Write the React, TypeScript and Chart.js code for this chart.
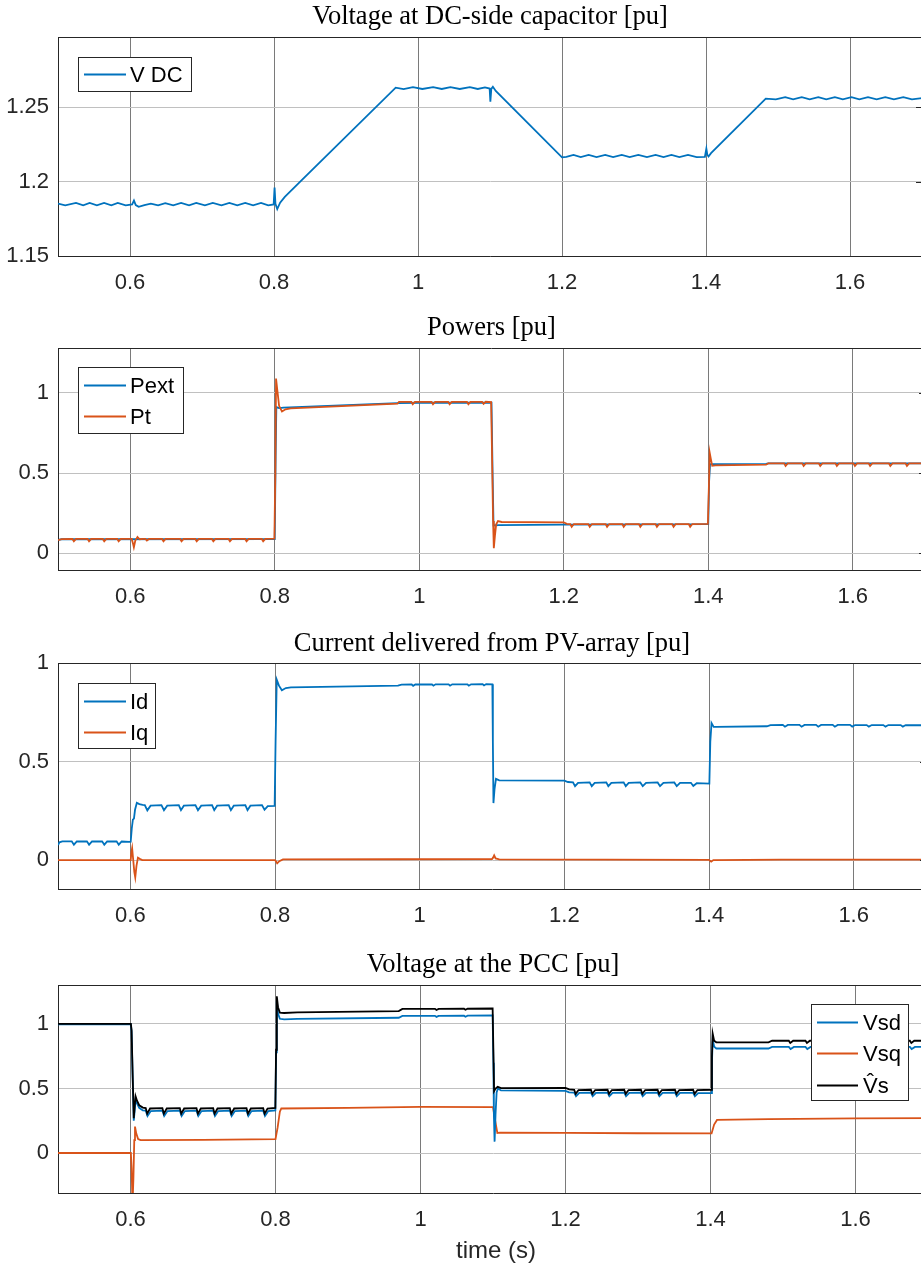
import React, { useEffect, useRef } from 'react';
import { Chart, registerables } from 'chart.js';

Chart.register(...registerables);

// ---------------- data ----------------
const X_TICKS = [0.6, 0.8, 1.0, 1.2, 1.4, 1.6];
const Y_TICKS_DC = [1.15, 1.2, 1.25];
const Y_TICKS_P = [0, 0.5, 1];
const Y_TICKS_I = [0, 0.5, 1];
const Y_TICKS_V = [0, 0.5, 1];

const TITLES = [
  'Voltage at DC-side capacitor [pu]',
  'Powers [pu]',
  'Current delivered from PV-array [pu]',
  'Voltage at the PCC [pu]',
];
const X_LABEL = 'time (s)';

const vdc: number[][] = [
  [0.500, 1.1852], [0.510, 1.1840], [0.525, 1.1856], [0.535, 1.1840], [0.544, 1.1856], [0.554, 1.1840],
  [0.564, 1.1856], [0.574, 1.1840], [0.583, 1.1856], [0.594, 1.1840], [0.603, 1.1846], [0.6055, 1.1872],
  [0.608, 1.1842], [0.612, 1.1830], [0.620, 1.1842], [0.629, 1.1852], [0.639, 1.1840], [0.649, 1.1855],
  [0.660, 1.1840], [0.671, 1.1856], [0.682, 1.1840], [0.692, 1.1856], [0.704, 1.1840], [0.715, 1.1856],
  [0.727, 1.1840], [0.738, 1.1856], [0.749, 1.1840], [0.760, 1.1856], [0.771, 1.1840], [0.782, 1.1856],
  [0.792, 1.1840], [0.7995, 1.1846], [0.8008, 1.1960], [0.8020, 1.1850], [0.8045, 1.1815], [0.8085, 1.1858],
  [0.815, 1.1897], [0.835, 1.1992], [0.969, 1.2630], [0.980, 1.2620], [0.993, 1.2634], [1.006, 1.2621],
  [1.021, 1.2634], [1.033, 1.2621], [1.045, 1.2634], [1.058, 1.2621], [1.072, 1.2634], [1.083, 1.2621],
  [1.093, 1.2632], [1.0995, 1.2624], [1.1005, 1.2535], [1.1018, 1.2622], [1.1040, 1.2636], [1.1080, 1.2608],
  [1.200, 1.2162], [1.206, 1.2166], [1.216, 1.2178], [1.226, 1.2164], [1.237, 1.2178], [1.248, 1.2164],
  [1.260, 1.2178], [1.271, 1.2164], [1.283, 1.2178], [1.294, 1.2164], [1.306, 1.2178], [1.318, 1.2164],
  [1.330, 1.2178], [1.341, 1.2164], [1.352, 1.2178], [1.363, 1.2164], [1.375, 1.2178], [1.387, 1.2164],
  [1.3985, 1.2166], [1.4005, 1.2220], [1.4018, 1.2180], [1.4035, 1.2168], [1.407, 1.2190], [1.483, 1.2556],
  [1.497, 1.2552], [1.510, 1.2566], [1.521, 1.2552], [1.533, 1.2566], [1.544, 1.2552], [1.556, 1.2566],
  [1.567, 1.2552], [1.579, 1.2566], [1.590, 1.2552], [1.602, 1.2566], [1.613, 1.2552], [1.625, 1.2566],
  [1.637, 1.2552], [1.649, 1.2566], [1.661, 1.2552], [1.674, 1.2566], [1.686, 1.2552], [1.700, 1.2560],
];

const pext: number[][] = [
  [0.500, 0.082], [0.505, 0.086], [0.800, 0.087], [0.8012, 0.600], [0.8022, 0.912], [0.806, 0.905],
  [0.812, 0.908], [0.970, 0.936], [1.000, 0.939], [1.100, 0.940], [1.1015, 0.500], [1.1028, 0.172],
  [1.110, 0.174], [1.200, 0.177], [1.400, 0.180], [1.4012, 0.450], [1.4025, 0.556], [1.410, 0.556],
  [1.480, 0.557], [1.483, 0.560], [1.700, 0.560],
];

const pt: number[][] = [
  [0.500, 0.080], [0.505, 0.087],
  [0.520, 0.088], [0.522, 0.074], [0.525, 0.088],
  [0.541, 0.088], [0.543, 0.074], [0.546, 0.088],
  [0.562, 0.088], [0.564, 0.074], [0.567, 0.088],
  [0.582, 0.088], [0.584, 0.074], [0.587, 0.088],
  [0.602, 0.088], [0.6035, 0.065], [0.605, 0.036], [0.607, 0.078], [0.610, 0.100], [0.613, 0.086], [0.618, 0.088],
  [0.621, 0.088], [0.623, 0.078], [0.626, 0.088],
  [0.644, 0.088], [0.646, 0.074], [0.649, 0.088],
  [0.669, 0.088], [0.671, 0.074], [0.674, 0.088],
  [0.690, 0.088], [0.692, 0.074], [0.695, 0.088],
  [0.713, 0.088], [0.715, 0.074], [0.718, 0.088],
  [0.736, 0.088], [0.738, 0.074], [0.741, 0.088],
  [0.759, 0.088], [0.761, 0.074], [0.764, 0.088],
  [0.782, 0.088], [0.784, 0.074], [0.787, 0.088],
  [0.7995, 0.090], [0.8008, 0.500], [0.8018, 1.090], [0.8035, 1.020], [0.806, 0.920], [0.810, 0.884],
  [0.815, 0.898], [0.822, 0.904], [0.970, 0.934], [0.972, 0.945],
  [0.989, 0.945], [0.991, 0.930], [0.994, 0.945],
  [1.017, 0.945], [1.019, 0.930], [1.022, 0.945],
  [1.040, 0.945], [1.042, 0.930], [1.045, 0.945],
  [1.066, 0.945], [1.068, 0.930], [1.071, 0.945],
  [1.087, 0.945], [1.089, 0.932], [1.092, 0.945],
  [1.0995, 0.943], [1.1008, 0.600], [1.1022, 0.200], [1.1032, 0.030], [1.1048, 0.110], [1.1065, 0.180],
  [1.109, 0.200], [1.114, 0.194], [1.200, 0.192], [1.204, 0.182],
  [1.209, 0.181], [1.211, 0.164], [1.214, 0.181],
  [1.234, 0.181], [1.236, 0.164], [1.239, 0.181],
  [1.258, 0.181], [1.260, 0.164], [1.263, 0.181],
  [1.281, 0.181], [1.283, 0.164], [1.286, 0.181],
  [1.304, 0.181], [1.306, 0.164], [1.309, 0.181],
  [1.327, 0.181], [1.329, 0.164], [1.332, 0.181],
  [1.350, 0.181], [1.352, 0.164], [1.355, 0.181],
  [1.373, 0.181], [1.375, 0.164], [1.378, 0.181],
  [1.3995, 0.182], [1.4008, 0.400], [1.4020, 0.627], [1.4035, 0.590], [1.4055, 0.545], [1.410, 0.548],
  [1.480, 0.552], [1.483, 0.560],
  [1.505, 0.560], [1.507, 0.544], [1.510, 0.560],
  [1.530, 0.560], [1.532, 0.544], [1.535, 0.560],
  [1.553, 0.560], [1.555, 0.544], [1.558, 0.560],
  [1.576, 0.560], [1.578, 0.544], [1.581, 0.560],
  [1.601, 0.560], [1.603, 0.544], [1.606, 0.560],
  [1.622, 0.560], [1.624, 0.544], [1.627, 0.560],
  [1.650, 0.560], [1.652, 0.544], [1.655, 0.560],
  [1.673, 0.560], [1.675, 0.544], [1.678, 0.560],
  [1.700, 0.560],
];

const id: number[][] = [
  [0.500, 0.076], [0.502, 0.090], [0.506, 0.095],
  [0.519, 0.095], [0.522, 0.078], [0.526, 0.094],
  [0.540, 0.095], [0.543, 0.078], [0.547, 0.094],
  [0.561, 0.095], [0.564, 0.078], [0.568, 0.094],
  [0.581, 0.095], [0.584, 0.078], [0.588, 0.094],
  [0.599, 0.092], [0.6005, 0.093], [0.6020, 0.160], [0.6035, 0.205], [0.6050, 0.210], [0.6065, 0.255],
  [0.6090, 0.290], [0.6125, 0.284], [0.617, 0.280],
  [0.620, 0.279], [0.6235, 0.252], [0.628, 0.276],
  [0.643, 0.279], [0.6465, 0.253], [0.651, 0.276],
  [0.667, 0.279], [0.6700, 0.253], [0.674, 0.276],
  [0.690, 0.279], [0.6935, 0.253], [0.698, 0.276],
  [0.713, 0.279], [0.7160, 0.253], [0.720, 0.276],
  [0.736, 0.279], [0.7390, 0.253], [0.743, 0.276],
  [0.759, 0.279], [0.7620, 0.253], [0.766, 0.276],
  [0.782, 0.279], [0.7855, 0.255], [0.790, 0.274],
  [0.7995, 0.275], [0.8008, 0.600], [0.8024, 0.915], [0.8055, 0.885], [0.8095, 0.862], [0.815, 0.873],
  [0.822, 0.876], [0.970, 0.885], [0.975, 0.890],
  [0.989, 0.891], [0.991, 0.884], [0.994, 0.891],
  [1.017, 0.892], [1.019, 0.885], [1.022, 0.892],
  [1.040, 0.892], [1.042, 0.885], [1.045, 0.892],
  [1.066, 0.892], [1.068, 0.885], [1.071, 0.892],
  [1.087, 0.893], [1.089, 0.886], [1.092, 0.893],
  [1.1005, 0.892], [1.1012, 0.600], [1.1020, 0.289], [1.1035, 0.360], [1.1055, 0.412], [1.110, 0.404],
  [1.200, 0.403], [1.205, 0.396],
  [1.212, 0.394], [1.2148, 0.375], [1.219, 0.392],
  [1.235, 0.394], [1.2379, 0.375], [1.242, 0.392],
  [1.258, 0.394], [1.2608, 0.375], [1.265, 0.392],
  [1.282, 0.394], [1.2849, 0.375], [1.289, 0.392],
  [1.305, 0.394], [1.3084, 0.375], [1.313, 0.392],
  [1.329, 0.394], [1.3323, 0.375], [1.337, 0.392],
  [1.352, 0.394], [1.3554, 0.375], [1.360, 0.392],
  [1.375, 0.392], [1.3783, 0.376], [1.383, 0.390],
  [1.4005, 0.388], [1.4018, 0.600], [1.4035, 0.695], [1.4065, 0.676], [1.410, 0.676], [1.480, 0.679],
  [1.485, 0.685],
  [1.502, 0.686], [1.505, 0.677], [1.509, 0.686],
  [1.525, 0.686], [1.528, 0.677], [1.532, 0.686],
  [1.548, 0.686], [1.551, 0.677], [1.555, 0.686],
  [1.571, 0.686], [1.574, 0.677], [1.578, 0.686],
  [1.595, 0.686], [1.598, 0.677], [1.602, 0.685],
  [1.618, 0.685], [1.621, 0.677], [1.625, 0.685],
  [1.641, 0.685], [1.644, 0.677], [1.648, 0.685],
  [1.665, 0.685], [1.668, 0.677], [1.672, 0.685],
  [1.700, 0.684],
];

const iq: number[][] = [
  [0.500, 0.000], [0.6005, 0.000], [0.6015, 0.040], [0.6025, 0.060], [0.6040, 0.000], [0.6055, -0.060],
  [0.6068, -0.088], [0.6085, -0.030], [0.6105, 0.012], [0.613, 0.006], [0.6165, 0.000], [0.800, 0.000],
  [0.8015, -0.008], [0.803, -0.017], [0.806, -0.006], [0.811, 0.003], [0.970, 0.004], [1.100, 0.005],
  [1.1015, 0.012], [1.1030, 0.024], [1.1050, 0.008], [1.110, 0.003], [1.400, 0.001], [1.4015, -0.004],
  [1.403, -0.008], [1.406, 0.000], [1.500, 0.002], [1.700, 0.002],
];

const vs: number[][] = [
  [0.500, 1.000], [0.6005, 1.000], [0.6015, 0.950], [0.6030, 0.600], [0.6045, 0.270], [0.6058, 0.360],
  [0.6070, 0.440], [0.6090, 0.405], [0.6120, 0.370], [0.617, 0.352],
  [0.621, 0.348], [0.623, 0.305], [0.627, 0.345],
  [0.644, 0.348], [0.646, 0.305], [0.650, 0.345],
  [0.668, 0.348], [0.670, 0.305], [0.674, 0.345],
  [0.691, 0.348], [0.693, 0.305], [0.697, 0.345],
  [0.714, 0.348], [0.716, 0.305], [0.720, 0.345],
  [0.737, 0.348], [0.739, 0.305], [0.743, 0.345],
  [0.760, 0.348], [0.762, 0.305], [0.766, 0.345],
  [0.783, 0.348], [0.785, 0.305], [0.789, 0.345],
  [0.7998, 0.350], [0.8008, 0.800], [0.8018, 1.215], [0.8035, 1.130], [0.806, 1.088], [0.812, 1.085],
  [0.830, 1.090], [0.970, 1.100], [0.975, 1.117],
  [1.020, 1.117], [1.022, 1.108], [1.025, 1.117], [1.060, 1.118], [1.062, 1.110], [1.065, 1.118],
  [1.0995, 1.120], [1.1005, 0.800], [1.1015, 0.480], [1.1035, 0.500], [1.1065, 0.513], [1.111, 0.503],
  [1.200, 0.505], [1.205, 0.493],
  [1.212, 0.490], [1.214, 0.458], [1.218, 0.488],
  [1.235, 0.490], [1.237, 0.458], [1.241, 0.488],
  [1.258, 0.490], [1.260, 0.458], [1.264, 0.488],
  [1.281, 0.490], [1.283, 0.458], [1.287, 0.488],
  [1.304, 0.490], [1.306, 0.458], [1.310, 0.488],
  [1.327, 0.490], [1.329, 0.458], [1.333, 0.488],
  [1.351, 0.490], [1.353, 0.458], [1.357, 0.488],
  [1.376, 0.490], [1.378, 0.458], [1.382, 0.488],
  [1.4010, 0.490], [1.4020, 0.750], [1.4030, 0.925], [1.4050, 0.870], [1.408, 0.858], [1.480, 0.858],
  [1.485, 0.870],
  [1.508, 0.870], [1.510, 0.853], [1.514, 0.870],
  [1.531, 0.870], [1.533, 0.853], [1.537, 0.870],
  [1.555, 0.870], [1.557, 0.853], [1.561, 0.870],
  [1.579, 0.870], [1.581, 0.853], [1.585, 0.870],
  [1.603, 0.870], [1.605, 0.853], [1.609, 0.870],
  [1.627, 0.870], [1.629, 0.853], [1.633, 0.870],
  [1.651, 0.870], [1.653, 0.853], [1.657, 0.870],
  [1.675, 0.870], [1.677, 0.853], [1.681, 0.870],
  [1.700, 0.870],
];

const vsd: number[][] = [
  [0.500, 0.998], [0.6005, 0.998], [0.6015, 0.940], [0.6030, 0.580], [0.6045, 0.250], [0.6058, 0.330],
  [0.6070, 0.415], [0.6090, 0.385], [0.6120, 0.350], [0.617, 0.330],
  [0.621, 0.328], [0.6235, 0.287], [0.628, 0.325],
  [0.644, 0.328], [0.6465, 0.287], [0.651, 0.325],
  [0.668, 0.328], [0.6705, 0.287], [0.675, 0.325],
  [0.691, 0.328], [0.6935, 0.287], [0.698, 0.325],
  [0.714, 0.328], [0.7165, 0.287], [0.721, 0.325],
  [0.737, 0.328], [0.7395, 0.287], [0.744, 0.325],
  [0.760, 0.328], [0.7625, 0.287], [0.767, 0.325],
  [0.783, 0.328], [0.7855, 0.287], [0.790, 0.325],
  [0.7998, 0.330], [0.8008, 0.780], [0.8018, 1.180], [0.8035, 1.080], [0.806, 1.040], [0.812, 1.035],
  [0.830, 1.040], [0.970, 1.048], [0.975, 1.062],
  [1.020, 1.063], [1.022, 1.055], [1.025, 1.063], [1.060, 1.064], [1.062, 1.056], [1.065, 1.064],
  [1.0995, 1.066], [1.1005, 0.700], [1.1012, 0.300], [1.1022, 0.088], [1.1035, 0.300], [1.1050, 0.470],
  [1.1068, 0.500], [1.111, 0.485], [1.200, 0.482], [1.205, 0.470],
  [1.212, 0.468], [1.2145, 0.440], [1.219, 0.466],
  [1.235, 0.468], [1.2375, 0.440], [1.242, 0.466],
  [1.258, 0.468], [1.2605, 0.440], [1.265, 0.466],
  [1.281, 0.468], [1.2835, 0.440], [1.288, 0.466],
  [1.304, 0.468], [1.3065, 0.440], [1.311, 0.466],
  [1.327, 0.468], [1.3295, 0.440], [1.334, 0.466],
  [1.351, 0.468], [1.3535, 0.440], [1.358, 0.466],
  [1.376, 0.466], [1.3785, 0.440], [1.383, 0.464],
  [1.4010, 0.465], [1.4020, 0.700], [1.4030, 0.880], [1.4050, 0.825], [1.408, 0.810], [1.480, 0.810],
  [1.485, 0.822],
  [1.508, 0.822], [1.5105, 0.806], [1.515, 0.822],
  [1.531, 0.822], [1.5335, 0.806], [1.538, 0.822],
  [1.555, 0.822], [1.5575, 0.806], [1.562, 0.822],
  [1.579, 0.822], [1.5815, 0.806], [1.586, 0.822],
  [1.603, 0.822], [1.6055, 0.806], [1.610, 0.822],
  [1.627, 0.822], [1.6295, 0.806], [1.634, 0.822],
  [1.651, 0.822], [1.6535, 0.806], [1.658, 0.822],
  [1.675, 0.822], [1.6775, 0.806], [1.682, 0.822],
  [1.700, 0.822],
];

const vsq: number[][] = [
  [0.500, 0.000], [0.6005, 0.000], [0.6015, -0.120], [0.6028, -0.400], [0.6040, -0.200], [0.6052, 0.100],
  [0.6062, 0.205], [0.6080, 0.150], [0.6105, 0.108], [0.614, 0.100], [0.700, 0.102], [0.8000, 0.108],
  [0.8030, 0.200], [0.8060, 0.320], [0.8080, 0.345], [0.900, 0.350], [1.000, 0.358], [1.1000, 0.355],
  [1.1030, 0.250], [1.1060, 0.155], [1.110, 0.158], [1.200, 0.156], [1.300, 0.153], [1.4015, 0.152],
  [1.405, 0.220], [1.409, 0.256], [1.480, 0.262], [1.600, 0.268], [1.700, 0.270],
];

// ---------------- styling ----------------
const BLUE = '#0072BD';
const ORANGE = '#D95319';
const BLACK = '#000000';
const BOX = '#262626';
const TICK = '#262626';
const X_GRID = '#7a7a7a';
const Y_GRID = '#c0c0c0';
const LINE_W = 1.8;
const SANS = '"Liberation Sans", Arial, sans-serif';
const SERIF = '"Liberation Serif", "Times New Roman", serif';

type Series = { label: string; data: number[][]; color: string; order: number };
type Spec = {
  top: number; width: number; height: number; areaTop: number; areaBottom: number;
  yMin: number; yMax: number; yTicks: number[]; title: string; titleBaseline: number;
  series: Series[];
  legend: { x0: number; y0: number; x1: number; y1: number; lx0: number; lx1: number; tx: number; rows: number[] };
  xLabelBaseline?: number;
};

const SPECS: Spec[] = [
  {
    top: 0, width: 922, height: 300, areaTop: 37, areaBottom: 256,
    yMin: 1.15, yMax: 1.297, yTicks: Y_TICKS_DC, title: TITLES[0], titleBaseline: 24,
    series: [{ label: 'V DC', data: vdc, color: BLUE, order: 0 }],
    legend: { x0: 78, y0: 57, x1: 191, y1: 91, lx0: 84, lx1: 126, tx: 130, rows: [74] },
  },
  {
    top: 310, width: 925, height: 304, areaTop: 38, areaBottom: 260,
    yMin: -0.106, yMax: 1.281, yTicks: Y_TICKS_P, title: TITLES[1], titleBaseline: 25,
    series: [
      { label: 'Pext', data: pext, color: BLUE, order: 1 },
      { label: 'Pt', data: pt, color: ORANGE, order: 0 },
    ],
    legend: { x0: 78, y0: 57, x1: 183, y1: 123, lx0: 84, lx1: 126, tx: 130, rows: [75, 106] },
  },
  {
    top: 625, width: 926, height: 308, areaTop: 38, areaBottom: 264,
    yMin: -0.147, yMax: 1.0, yTicks: Y_TICKS_I, title: TITLES[2], titleBaseline: 25.7,
    series: [
      { label: 'Id', data: id, color: BLUE, order: 0 },
      { label: 'Iq', data: iq, color: ORANGE, order: 1 },
    ],
    legend: { x0: 78, y0: 58, x1: 155, y1: 123, lx0: 84, lx1: 126, tx: 130, rows: [76, 107] },
  },
  {
    top: 945, width: 928, height: 319, areaTop: 40, areaBottom: 248,
    yMin: -0.31, yMax: 1.302, yTicks: Y_TICKS_V, title: TITLES[3], titleBaseline: 27,
    series: [
      { label: 'Vsd', data: vsd, color: BLUE, order: 1 },
      { label: 'Vsq', data: vsq, color: ORANGE, order: 2 },
      { label: 'V\u0302s', data: vs, color: BLACK, order: 0 },
    ],
    legend: { x0: 811, y0: 59, x1: 908, y1: 155, lx0: 817, lx1: 858, tx: 863, rows: [77, 108, 140] },
    xLabelBaseline: 313,
  },
];

function makeDecor(spec: Spec) {
  return {
    id: 'decor',
    afterDraw(chart: any) {
      const ctx: CanvasRenderingContext2D = chart.ctx;
      const a = chart.chartArea;
      const yScale = chart.scales.y;
      ctx.save();
      ctx.strokeStyle = BOX;
      ctx.lineWidth = 1;
      ctx.beginPath();
      ctx.moveTo(Math.round(a.left) + 0.5, Math.round(a.top) + 0.5);
      ctx.lineTo(Math.round(a.right) - 0.5, Math.round(a.top) + 0.5);
      ctx.lineTo(Math.round(a.right) - 0.5, Math.round(a.bottom) + 0.5);
      ctx.stroke();
      ctx.beginPath();
      for (const v of spec.yTicks) {
        const py = Math.round(yScale.getPixelForValue(v)) + 0.5;
        ctx.moveTo(a.right - 6, py);
        ctx.lineTo(a.right, py);
      }
      ctx.stroke();
      ctx.fillStyle = '#000';
      ctx.font = `26.5px ${SERIF}`;
      ctx.textAlign = 'center';
      ctx.textBaseline = 'alphabetic';
      ctx.fillText(spec.title, (a.left + a.right) / 2, spec.titleBaseline);
      if (spec.xLabelBaseline) {
        ctx.fillStyle = TICK;
        ctx.font = `24px ${SANS}`;
        ctx.fillText(X_LABEL, (a.left + a.right) / 2 + 3, spec.xLabelBaseline);
      }
      const L = spec.legend;
      ctx.fillStyle = '#ffffff';
      ctx.fillRect(L.x0, L.y0, L.x1 - L.x0, L.y1 - L.y0);
      ctx.strokeStyle = BOX;
      ctx.lineWidth = 1;
      ctx.strokeRect(L.x0 + 0.5, L.y0 + 0.5, L.x1 - L.x0, L.y1 - L.y0);
      ctx.font = `22px ${SANS}`;
      ctx.textAlign = 'left';
      spec.series.forEach((s, i) => {
        const y = L.rows[i];
        ctx.strokeStyle = s.color;
        ctx.lineWidth = LINE_W;
        ctx.beginPath();
        ctx.moveTo(L.lx0, y + 0.5);
        ctx.lineTo(L.lx1, y + 0.5);
        ctx.stroke();
        ctx.fillStyle = '#000';
        ctx.fillText(s.label, L.tx, y + 8);
      });
      ctx.restore();
    },
  };
}

function Panel({ spec }: { spec: Spec }) {
  const ref = useRef<HTMLCanvasElement | null>(null);
  useEffect(() => {
    const canvas = ref.current;
    if (!canvas) return;
    const tickFont = { family: SANS, size: 22 };
    const chart = new Chart(canvas, {
      type: 'line',
      data: {
        datasets: spec.series.map((s) => ({
          label: s.label,
          data: s.data.map(([x, y]) => ({ x, y })),
          borderColor: s.color,
          backgroundColor: s.color,
          borderWidth: LINE_W,
          pointRadius: 0,
          pointHoverRadius: 0,
          fill: false,
          tension: 0,
          order: s.order,
        })),
      },
      options: {
        responsive: false,
        animation: false,
        devicePixelRatio: 1,
        events: [],
        layout: { padding: { top: spec.areaTop, left: 0, right: 0, bottom: 0 } },
        plugins: {
          legend: { display: false },
          tooltip: { enabled: false },
          title: { display: false },
        },
        scales: {
          x: {
            type: 'linear',
            min: 0.5,
            max: 1.7,
            afterBuildTicks: (s: any) => { s.ticks = X_TICKS.map((v) => ({ value: v })); },
            afterFit: (s: any) => { s.height = spec.height - spec.areaBottom; },
            grid: { color: X_GRID, lineWidth: 1, drawTicks: false },
            border: { display: true, color: BOX, width: 1 },
            ticks: {
              padding: 14, font: tickFont, color: TICK, maxRotation: 0, autoSkip: false,
              callback: (v: any) => String(Math.round(Number(v) * 100) / 100),
            },
          },
          y: {
            type: 'linear',
            min: spec.yMin,
            max: spec.yMax,
            afterBuildTicks: (s: any) => { s.ticks = spec.yTicks.map((v) => ({ value: v })); },
            afterFit: (s: any) => { s.width = 58; },
            grid: { color: Y_GRID, lineWidth: 1, drawTicks: false },
            border: { display: true, color: BOX, width: 1 },
            ticks: {
              padding: 9, font: tickFont, color: TICK, autoSkip: false,
              callback: (v: any) => String(Math.round(Number(v) * 100) / 100),
            },
          },
        },
      } as any,
      plugins: [makeDecor(spec)],
    });
    return () => chart.destroy();
  }, [spec]);
  return (
    <canvas
      ref={ref}
      width={spec.width}
      height={spec.height}
      style={{ position: 'absolute', left: 0, top: spec.top, width: spec.width, height: spec.height, display: 'block' }}
    />
  );
}

export default function App() {
  return (
    <div
      style={{
        position: 'absolute', left: 0, top: 0, width: 921, height: 1264,
        overflow: 'hidden', background: '#ffffff',
      }}
    >
      {SPECS.map((s, i) => <Panel key={i} spec={s} />)}
    </div>
  );
}
